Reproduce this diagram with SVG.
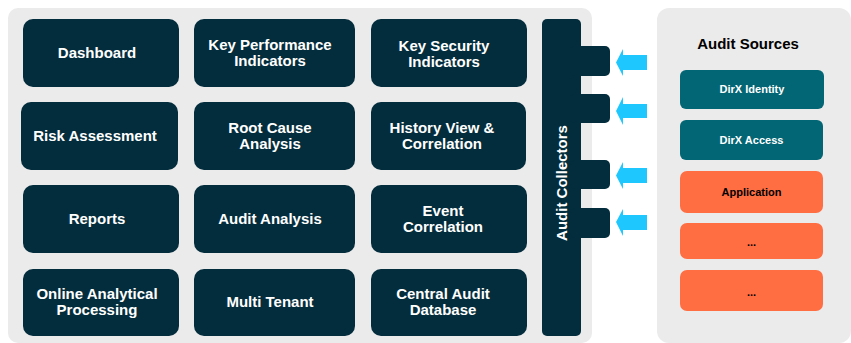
<svg xmlns="http://www.w3.org/2000/svg" width="851" height="343" viewBox="0 0 851 343">
<style>
.panel{fill:#ebebeb}
.node{fill:#032d3c}
.t{font-family:"Liberation Sans",Arial,sans-serif;font-weight:bold;font-size:15px;fill:#fff;text-anchor:middle}
.s{font-family:"Liberation Sans",Arial,sans-serif;font-weight:bold;font-size:11px;text-anchor:middle}
.teal{fill:#036675}
.orange{fill:#ff6d42}
.arrow{fill:#1fc7ff}
</style>
<rect width="851" height="343" fill="#fff"/>
<rect class="panel" x="8" y="8" width="584" height="335" rx="10"/>
<rect class="panel" x="657" y="8" width="194" height="335" rx="12"/>

<g id="dashboard"><rect class="node" x="23" y="19" width="156" height="68" rx="10"/><text class="t" x="97" y="58">Dashboard</text></g>
<g id="kpi"><rect class="node" x="194" y="19" width="161" height="68" rx="10"/><text class="t" x="270" y="50">Key Performance</text><text class="t" x="270" y="66">Indicators</text></g>
<g id="ksi"><rect class="node" x="371" y="19" width="156" height="68" rx="10"/><text class="t" x="444" y="51">Key Security</text><text class="t" x="444" y="67">Indicators</text></g>

<g id="risk"><rect class="node" x="21" y="102" width="157" height="68" rx="10"/><text class="t" x="95" y="141">Risk Assessment</text></g>
<g id="rca"><rect class="node" x="194" y="102" width="161" height="68" rx="10"/><text class="t" x="270" y="133">Root Cause</text><text class="t" x="270" y="149">Analysis</text></g>
<g id="history"><rect class="node" x="371" y="102" width="155" height="68" rx="10"/><text class="t" x="442" y="133">History View &amp;</text><text class="t" x="442" y="149">Correlation</text></g>

<g id="reports"><rect class="node" x="23" y="185" width="156" height="68" rx="10"/><text class="t" x="97" y="224">Reports</text></g>
<g id="audit-analysis"><rect class="node" x="194" y="185" width="161" height="68" rx="10"/><text class="t" x="270" y="224">Audit Analysis</text></g>
<g id="event"><rect class="node" x="371" y="185" width="156" height="68" rx="10"/><text class="t" x="443" y="216">Event</text><text class="t" x="443" y="232">Correlation</text></g>

<g id="olap"><rect class="node" x="23" y="269" width="156" height="67" rx="10"/><text class="t" x="97" y="299">Online Analytical</text><text class="t" x="97" y="315">Processing</text></g>
<g id="multi"><rect class="node" x="194" y="269" width="161" height="67" rx="10"/><text class="t" x="270" y="307">Multi Tenant</text></g>
<g id="central"><rect class="node" x="371" y="269" width="156" height="67" rx="10"/><text class="t" x="443" y="299">Central Audit</text><text class="t" x="443" y="315">Database</text></g>

<g id="collectors">
<rect class="node" x="542" y="19" width="39" height="317" rx="5"/>
<rect class="node" x="570" y="46" width="40" height="30" rx="5"/>
<rect class="node" x="570" y="94" width="40" height="29" rx="5"/>
<rect class="node" x="570" y="160" width="40" height="29" rx="5"/>
<rect class="node" x="570" y="208" width="40" height="30" rx="5"/>
<text class="t" transform="translate(567,183) rotate(-90)">Audit Collectors</text>
</g>

<g id="connectors">
<polygon class="arrow" points="616,62.5 623,49 623,55 647,55 647,70 623,70 623,76"/>
<polygon class="arrow" points="616,111 623,97 623,104 647,104 647,118 623,118 623,125"/>
<polygon class="arrow" points="616,175.5 623,162 623,168 647,168 647,183 623,183 623,189"/>
<polygon class="arrow" points="616,222 623,209 623,215 647,215 647,230 623,230 623,236"/>
</g>

<text class="t" x="748" y="49" style="fill:#000">Audit Sources</text>
<g id="dirx-identity"><rect class="teal" x="680" y="70" width="144" height="39" rx="6"/><text class="s" x="752" y="93" fill="#fff">DirX Identity</text></g>
<g id="dirx-access"><rect class="teal" x="680" y="120" width="143" height="40" rx="6"/><text class="s" x="751.5" y="144" fill="#fff">DirX Access</text></g>
<g id="application"><rect class="orange" x="680" y="171" width="143" height="42" rx="7"/><text class="s" x="751.5" y="196" fill="#000">Application</text></g>
<g id="more1"><rect class="orange" x="680" y="223" width="143" height="36" rx="7"/><text class="s" x="751.5" y="246" fill="#000">...</text></g>
<g id="more2"><rect class="orange" x="680" y="270" width="143" height="41" rx="7"/><text class="s" x="751.5" y="296" fill="#000">...</text></g>
</svg>
